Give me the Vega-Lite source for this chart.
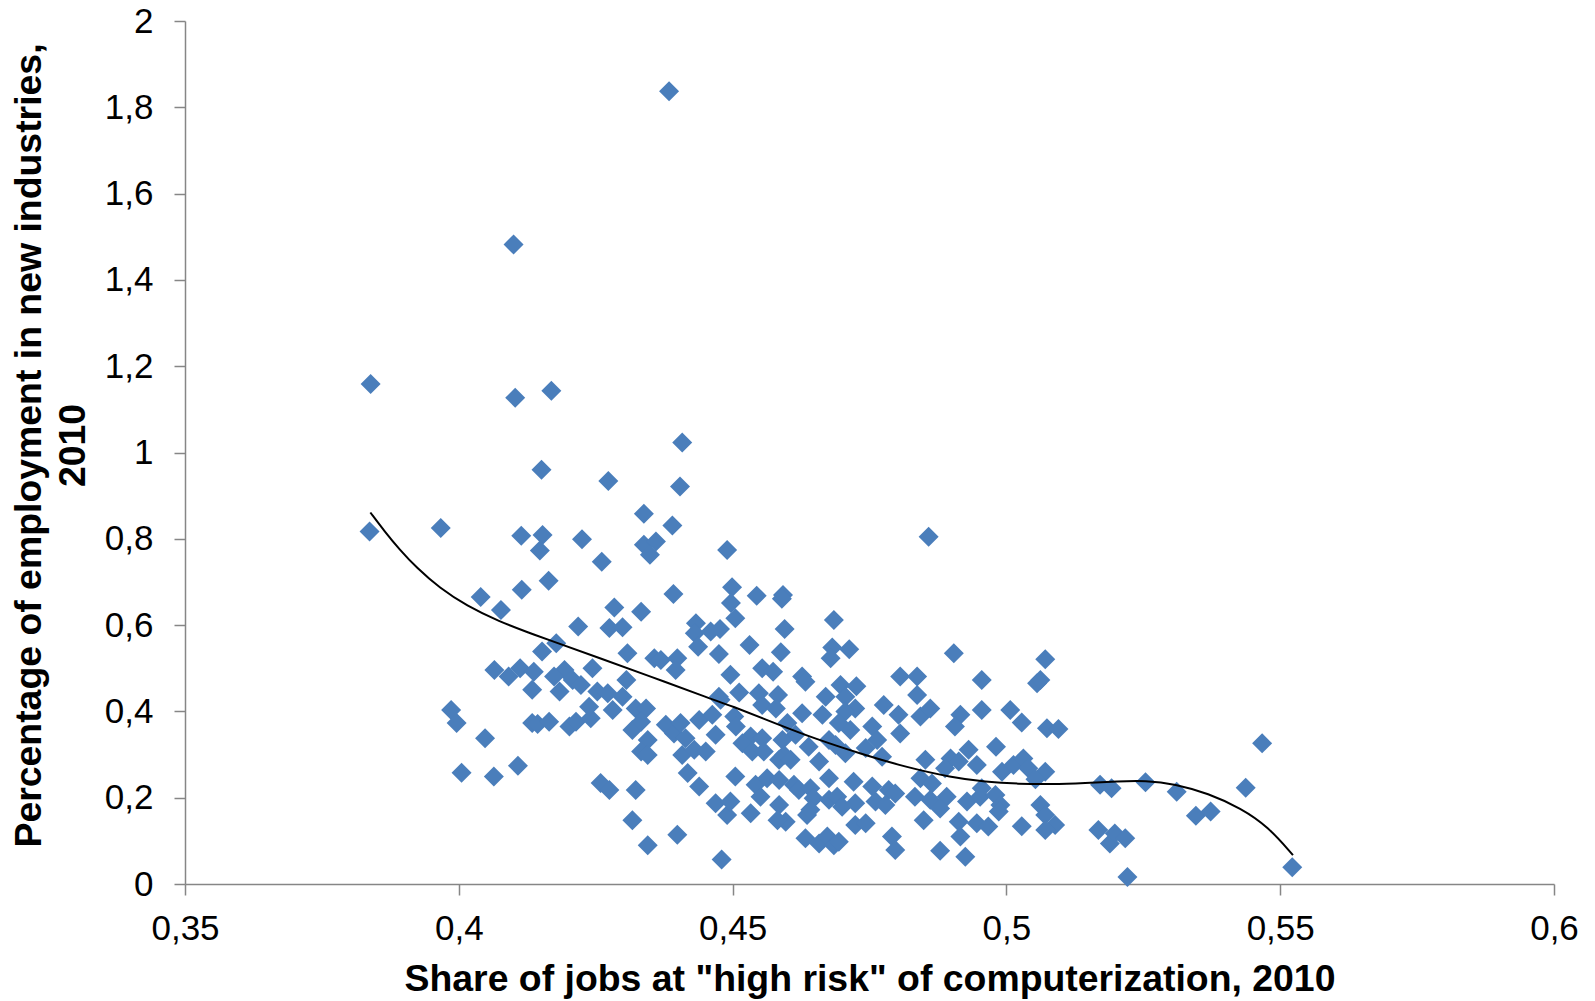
{
  "$schema": "https://vega.github.io/schema/vega-lite/v6.json",
  "width": 1369,
  "height": 863,
  "autosize": {"type": "none"},
  "padding": {"left": 185, "top": 21, "right": 41, "bottom": 117},
  "background": "white",
  "config": {
    "locale": {"number": {"decimal": ",", "thousands": ".", "grouping": [3], "currency": ["", " €"]}},
    "view": {"stroke": null},
    "axis": {
      "grid": false,
      "domainColor": "#868686",
      "tickColor": "#868686",
      "domainWidth": 1.5,
      "tickWidth": 1.5,
      "tickSize": 11,
      "labelFont": "Liberation Sans",
      "labelFontSize": 35,
      "labelColor": "#000000",
      "labelOverlap": false,
      "labelFlush": false,
      "titleFont": "Liberation Sans",
      "titleFontSize": 37.4,
      "titleFontWeight": "bold",
      "titleColor": "#000000"
    }
  },
  "datasets": {
    "points": [
      {"risk": 0.4384, "emp": 1.837}, {"risk": 0.4100, "emp": 1.482}, {"risk": 0.3839, "emp": 1.159}, {"risk": 0.4103, "emp": 1.127},
      {"risk": 0.4169, "emp": 1.143}, {"risk": 0.4408, "emp": 1.023}, {"risk": 0.4151, "emp": 0.960}, {"risk": 0.4273, "emp": 0.934},
      {"risk": 0.4404, "emp": 0.921}, {"risk": 0.3837, "emp": 0.817}, {"risk": 0.3967, "emp": 0.825}, {"risk": 0.4114, "emp": 0.807},
      {"risk": 0.4153, "emp": 0.809}, {"risk": 0.4148, "emp": 0.773}, {"risk": 0.4164, "emp": 0.703}, {"risk": 0.4115, "emp": 0.682},
      {"risk": 0.4040, "emp": 0.665}, {"risk": 0.4077, "emp": 0.635}, {"risk": 0.4152, "emp": 0.539}, {"risk": 0.4065, "emp": 0.496},
      {"risk": 0.4091, "emp": 0.481}, {"risk": 0.4112, "emp": 0.500}, {"risk": 0.4137, "emp": 0.492}, {"risk": 0.4134, "emp": 0.450},
      {"risk": 0.3986, "emp": 0.403}, {"risk": 0.3996, "emp": 0.373}, {"risk": 0.4134, "emp": 0.373}, {"risk": 0.4144, "emp": 0.371},
      {"risk": 0.4165, "emp": 0.376}, {"risk": 0.4048, "emp": 0.338}, {"risk": 0.4005, "emp": 0.258}, {"risk": 0.4064, "emp": 0.249},
      {"risk": 0.4108, "emp": 0.274}, {"risk": 0.4338, "emp": 0.858}, {"risk": 0.4390, "emp": 0.831}, {"risk": 0.4225, "emp": 0.799},
      {"risk": 0.4338, "emp": 0.786}, {"risk": 0.4360, "emp": 0.794}, {"risk": 0.4349, "emp": 0.763}, {"risk": 0.4490, "emp": 0.774},
      {"risk": 0.4261, "emp": 0.747}, {"risk": 0.4392, "emp": 0.672}, {"risk": 0.4499, "emp": 0.688}, {"risk": 0.4497, "emp": 0.651},
      {"risk": 0.4505, "emp": 0.616}, {"risk": 0.4284, "emp": 0.641}, {"risk": 0.4333, "emp": 0.631}, {"risk": 0.4218, "emp": 0.597},
      {"risk": 0.4275, "emp": 0.593}, {"risk": 0.4299, "emp": 0.595}, {"risk": 0.4433, "emp": 0.604}, {"risk": 0.4431, "emp": 0.581},
      {"risk": 0.4460, "emp": 0.585}, {"risk": 0.4477, "emp": 0.591}, {"risk": 0.4437, "emp": 0.550}, {"risk": 0.4475, "emp": 0.533},
      {"risk": 0.4178, "emp": 0.558}, {"risk": 0.4308, "emp": 0.535}, {"risk": 0.4357, "emp": 0.523}, {"risk": 0.4369, "emp": 0.519},
      {"risk": 0.4399, "emp": 0.523}, {"risk": 0.4396, "emp": 0.496}, {"risk": 0.4244, "emp": 0.500}, {"risk": 0.4306, "emp": 0.473},
      {"risk": 0.4193, "emp": 0.496}, {"risk": 0.4174, "emp": 0.481}, {"risk": 0.4208, "emp": 0.473}, {"risk": 0.4184, "emp": 0.446},
      {"risk": 0.4223, "emp": 0.461}, {"risk": 0.4253, "emp": 0.446}, {"risk": 0.4272, "emp": 0.442}, {"risk": 0.4299, "emp": 0.434},
      {"risk": 0.4496, "emp": 0.485}, {"risk": 0.4475, "emp": 0.434}, {"risk": 0.4202, "emp": 0.365}, {"risk": 0.4214, "emp": 0.376},
      {"risk": 0.4241, "emp": 0.384}, {"risk": 0.4238, "emp": 0.411}, {"risk": 0.4281, "emp": 0.403}, {"risk": 0.4323, "emp": 0.407},
      {"risk": 0.4342, "emp": 0.407}, {"risk": 0.4317, "emp": 0.357}, {"risk": 0.4333, "emp": 0.376}, {"risk": 0.4345, "emp": 0.334},
      {"risk": 0.4333, "emp": 0.307}, {"risk": 0.4345, "emp": 0.299}, {"risk": 0.4378, "emp": 0.369}, {"risk": 0.4393, "emp": 0.349},
      {"risk": 0.4405, "emp": 0.373}, {"risk": 0.4414, "emp": 0.338}, {"risk": 0.4408, "emp": 0.299}, {"risk": 0.4430, "emp": 0.311},
      {"risk": 0.4451, "emp": 0.307}, {"risk": 0.4418, "emp": 0.257}, {"risk": 0.4439, "emp": 0.226}, {"risk": 0.4439, "emp": 0.380},
      {"risk": 0.4463, "emp": 0.392}, {"risk": 0.4478, "emp": 0.427}, {"risk": 0.4469, "emp": 0.346}, {"risk": 0.4469, "emp": 0.187},
      {"risk": 0.4490, "emp": 0.160}, {"risk": 0.4259, "emp": 0.234}, {"risk": 0.4275, "emp": 0.218}, {"risk": 0.4323, "emp": 0.218},
      {"risk": 0.4317, "emp": 0.148}, {"risk": 0.4345, "emp": 0.090}, {"risk": 0.4399, "emp": 0.114}, {"risk": 0.4480, "emp": 0.057},
      {"risk": 0.4858, "emp": 0.805}, {"risk": 0.4544, "emp": 0.668}, {"risk": 0.4592, "emp": 0.670}, {"risk": 0.4590, "emp": 0.661},
      {"risk": 0.4595, "emp": 0.591}, {"risk": 0.4685, "emp": 0.612}, {"risk": 0.4531, "emp": 0.554}, {"risk": 0.4588, "emp": 0.537},
      {"risk": 0.4682, "emp": 0.548}, {"risk": 0.4713, "emp": 0.544}, {"risk": 0.4679, "emp": 0.523}, {"risk": 0.4554, "emp": 0.500},
      {"risk": 0.4574, "emp": 0.492}, {"risk": 0.4627, "emp": 0.481}, {"risk": 0.4633, "emp": 0.469}, {"risk": 0.4697, "emp": 0.461},
      {"risk": 0.4726, "emp": 0.458}, {"risk": 0.4806, "emp": 0.481}, {"risk": 0.4837, "emp": 0.481}, {"risk": 0.4837, "emp": 0.438},
      {"risk": 0.4512, "emp": 0.444}, {"risk": 0.4548, "emp": 0.442}, {"risk": 0.4583, "emp": 0.438}, {"risk": 0.4670, "emp": 0.434},
      {"risk": 0.4706, "emp": 0.434}, {"risk": 0.4554, "emp": 0.415}, {"risk": 0.4579, "emp": 0.407}, {"risk": 0.4627, "emp": 0.396},
      {"risk": 0.4664, "emp": 0.392}, {"risk": 0.4724, "emp": 0.407}, {"risk": 0.4706, "emp": 0.400}, {"risk": 0.4694, "emp": 0.373},
      {"risk": 0.4715, "emp": 0.357}, {"risk": 0.4776, "emp": 0.415}, {"risk": 0.4803, "emp": 0.392}, {"risk": 0.4843, "emp": 0.388},
      {"risk": 0.4503, "emp": 0.388}, {"risk": 0.4506, "emp": 0.365}, {"risk": 0.4533, "emp": 0.342}, {"risk": 0.4518, "emp": 0.326},
      {"risk": 0.4554, "emp": 0.338}, {"risk": 0.4536, "emp": 0.307}, {"risk": 0.4557, "emp": 0.307}, {"risk": 0.4600, "emp": 0.373},
      {"risk": 0.4615, "emp": 0.346}, {"risk": 0.4591, "emp": 0.334}, {"risk": 0.4594, "emp": 0.299}, {"risk": 0.4585, "emp": 0.288},
      {"risk": 0.4606, "emp": 0.288}, {"risk": 0.4639, "emp": 0.318}, {"risk": 0.4658, "emp": 0.284}, {"risk": 0.4676, "emp": 0.334},
      {"risk": 0.4688, "emp": 0.322}, {"risk": 0.4706, "emp": 0.303}, {"risk": 0.4743, "emp": 0.315}, {"risk": 0.4755, "emp": 0.365},
      {"risk": 0.4764, "emp": 0.334}, {"risk": 0.4773, "emp": 0.295}, {"risk": 0.4806, "emp": 0.349}, {"risk": 0.4852, "emp": 0.288},
      {"risk": 0.4505, "emp": 0.249}, {"risk": 0.4542, "emp": 0.230}, {"risk": 0.4563, "emp": 0.245}, {"risk": 0.4551, "emp": 0.202},
      {"risk": 0.4496, "emp": 0.191}, {"risk": 0.4585, "emp": 0.241}, {"risk": 0.4612, "emp": 0.230}, {"risk": 0.4621, "emp": 0.218},
      {"risk": 0.4642, "emp": 0.222}, {"risk": 0.4676, "emp": 0.245}, {"risk": 0.4648, "emp": 0.199}, {"risk": 0.4676, "emp": 0.195},
      {"risk": 0.4691, "emp": 0.202}, {"risk": 0.4700, "emp": 0.179}, {"risk": 0.4724, "emp": 0.187}, {"risk": 0.4721, "emp": 0.237},
      {"risk": 0.4755, "emp": 0.226}, {"risk": 0.4785, "emp": 0.218}, {"risk": 0.4761, "emp": 0.191}, {"risk": 0.4779, "emp": 0.183},
      {"risk": 0.4797, "emp": 0.210}, {"risk": 0.4833, "emp": 0.202}, {"risk": 0.4849, "emp": 0.148}, {"risk": 0.4533, "emp": 0.164},
      {"risk": 0.4585, "emp": 0.183}, {"risk": 0.4597, "emp": 0.144}, {"risk": 0.4582, "emp": 0.148}, {"risk": 0.4636, "emp": 0.160},
      {"risk": 0.4642, "emp": 0.172}, {"risk": 0.4724, "emp": 0.137}, {"risk": 0.4743, "emp": 0.141}, {"risk": 0.4633, "emp": 0.106},
      {"risk": 0.4658, "emp": 0.094}, {"risk": 0.4673, "emp": 0.110}, {"risk": 0.4685, "emp": 0.090}, {"risk": 0.4694, "emp": 0.098},
      {"risk": 0.4791, "emp": 0.110}, {"risk": 0.4797, "emp": 0.079}, {"risk": 0.4904, "emp": 0.535}, {"risk": 0.5071, "emp": 0.521},
      {"risk": 0.4955, "emp": 0.473}, {"risk": 0.5056, "emp": 0.465}, {"risk": 0.5062, "emp": 0.473}, {"risk": 0.4861, "emp": 0.407},
      {"risk": 0.4916, "emp": 0.392}, {"risk": 0.4906, "emp": 0.365}, {"risk": 0.4955, "emp": 0.403}, {"risk": 0.5007, "emp": 0.403},
      {"risk": 0.5028, "emp": 0.374}, {"risk": 0.5074, "emp": 0.361}, {"risk": 0.5095, "emp": 0.359}, {"risk": 0.4931, "emp": 0.311},
      {"risk": 0.4981, "emp": 0.318}, {"risk": 0.4898, "emp": 0.291}, {"risk": 0.4888, "emp": 0.268}, {"risk": 0.4913, "emp": 0.284},
      {"risk": 0.4946, "emp": 0.276}, {"risk": 0.4992, "emp": 0.260}, {"risk": 0.5013, "emp": 0.276}, {"risk": 0.5031, "emp": 0.291},
      {"risk": 0.5040, "emp": 0.268}, {"risk": 0.5071, "emp": 0.260}, {"risk": 0.5053, "emp": 0.243}, {"risk": 0.4843, "emp": 0.245},
      {"risk": 0.4864, "emp": 0.233}, {"risk": 0.4861, "emp": 0.195}, {"risk": 0.4891, "emp": 0.202}, {"risk": 0.4879, "emp": 0.175},
      {"risk": 0.4928, "emp": 0.191}, {"risk": 0.4952, "emp": 0.202}, {"risk": 0.4955, "emp": 0.222}, {"risk": 0.4980, "emp": 0.206},
      {"risk": 0.4989, "emp": 0.183}, {"risk": 0.4986, "emp": 0.168}, {"risk": 0.4913, "emp": 0.144}, {"risk": 0.4946, "emp": 0.141},
      {"risk": 0.4967, "emp": 0.133}, {"risk": 0.4916, "emp": 0.110}, {"risk": 0.4879, "emp": 0.077}, {"risk": 0.4925, "emp": 0.063},
      {"risk": 0.5062, "emp": 0.183}, {"risk": 0.5071, "emp": 0.160}, {"risk": 0.5089, "emp": 0.137}, {"risk": 0.5071, "emp": 0.125},
      {"risk": 0.5028, "emp": 0.134}, {"risk": 0.5171, "emp": 0.230}, {"risk": 0.5192, "emp": 0.222}, {"risk": 0.5168, "emp": 0.125},
      {"risk": 0.5189, "emp": 0.094}, {"risk": 0.5198, "emp": 0.117}, {"risk": 0.5254, "emp": 0.236}, {"risk": 0.5311, "emp": 0.214},
      {"risk": 0.5346, "emp": 0.158}, {"risk": 0.5373, "emp": 0.168}, {"risk": 0.5437, "emp": 0.223}, {"risk": 0.5467, "emp": 0.326},
      {"risk": 0.5522, "emp": 0.039}, {"risk": 0.5217, "emp": 0.106}, {"risk": 0.5221, "emp": 0.016}
    ],
    "trend": [
      {"risk": 0.38385, "emp": 0.861}, {"risk": 0.38646, "emp": 0.817}, {"risk": 0.38919, "emp": 0.775}, {"risk": 0.39229, "emp": 0.733},
      {"risk": 0.39648, "emp": 0.686}, {"risk": 0.40140, "emp": 0.645}, {"risk": 0.40742, "emp": 0.608}, {"risk": 0.41289, "emp": 0.582},
      {"risk": 0.41653, "emp": 0.565}, {"risk": 0.42565, "emp": 0.524}, {"risk": 0.43476, "emp": 0.482}, {"risk": 0.44624, "emp": 0.428},
      {"risk": 0.44934, "emp": 0.415}, {"risk": 0.45846, "emp": 0.369}, {"risk": 0.46520, "emp": 0.336}, {"risk": 0.47359, "emp": 0.301},
      {"risk": 0.48161, "emp": 0.271}, {"risk": 0.48999, "emp": 0.247}, {"risk": 0.49619, "emp": 0.2365}, {"risk": 0.50221, "emp": 0.232},
      {"risk": 0.50822, "emp": 0.231}, {"risk": 0.51442, "emp": 0.234}, {"risk": 0.52043, "emp": 0.238}, {"risk": 0.52535, "emp": 0.240},
      {"risk": 0.53082, "emp": 0.232}, {"risk": 0.53684, "emp": 0.210}, {"risk": 0.54285, "emp": 0.1755}, {"risk": 0.54778, "emp": 0.133},
      {"risk": 0.55233, "emp": 0.067}
    ]
  },
  "layer": [
    {
      "data": {"name": "points"},
      "mark": {"type": "point", "shape": "diamond", "filled": true, "size": 400, "color": "#4A7EBB", "opacity": 1},
      "encoding": {
        "x": {
          "field": "risk", "type": "quantitative",
          "scale": {"domain": [0.35, 0.6], "nice": false, "zero": false},
          "axis": {
            "values": [0.35, 0.4, 0.45, 0.5, 0.55, 0.6],
            "format": ".2~f",
            "labelPadding": 16,
            "title": "Share of jobs at \"high risk\" of computerization, 2010",
            "titleBaseline": "alphabetic",
            "titleY": 106
          }
        },
        "y": {
          "field": "emp", "type": "quantitative",
          "scale": {"domain": [0, 2], "nice": false, "zero": true},
          "axis": {
            "values": [0, 0.2, 0.4, 0.6, 0.8, 1, 1.2, 1.4, 1.6, 1.8, 2],
            "format": ".1~f",
            "labelPadding": 21,
            "title": ["Percentage of employment in new industries,", "2010"],
            "titleBaseline": "alphabetic",
            "titleLineHeight": 44,
            "titleX": -145,
            "titleY": 424
          }
        }
      }
    },
    {
      "data": {"name": "trend"},
      "mark": {"type": "line", "color": "#000000", "strokeWidth": 2, "interpolate": "basis"},
      "encoding": {
        "x": {"field": "risk", "type": "quantitative"},
        "y": {"field": "emp", "type": "quantitative"}
      }
    }
  ]
}
